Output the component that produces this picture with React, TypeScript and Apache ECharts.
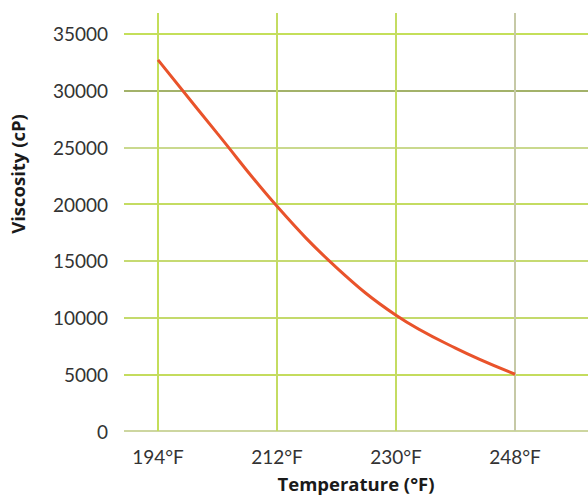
import React, { useEffect, useRef } from "react";
import * as echarts from "echarts";

const temperatures = [194, 203, 212, 221, 230, 239, 248];
const viscosity = [32700, 26200, 19800, 14400, 10200, 7300, 5000];
const xTickValues = [194, 212, 230, 248];
const yGridValues = [0, 5000, 10000, 15000, 20000, 25000, 30000, 35000];
const yGridColors = ["#cdd6a0", "#c4dc5e", "#c4da6c", "#c6da72", "#c4dc62", "#cad98e", "#a3b26a", "#c4df5a"];
const xGridColors = ["#c4de5a", "#c4dc62", "#c4dc62", "#c6c9a6"];

export default function App() {
  const ref = useRef<HTMLDivElement>(null);
  useEffect(() => {
    document.body.style.margin = "0";
    const chart = echarts.init(ref.current!, null, { renderer: "svg" });
    const hLines = yGridValues.map((v, i) => ({
      yAxis: v,
      lineStyle: { color: yGridColors[i], width: 2, type: "solid" },
    }));
    const vLines = xTickValues.map((v, i) => ({
      xAxis: v,
      lineStyle: { color: xGridColors[i], width: 2, type: "solid" },
    }));
    chart.setOption({
      animation: false,
      grid: { left: 124, right: 0, top: 13, bottom: 63 },
      xAxis: {
        type: "value",
        min: 188.86,
        max: 259.04,
        splitLine: { show: false },
        axisLine: { show: false },
        axisTick: { show: false },
        axisLabel: {
          customValues: xTickValues,
          formatter: (v: number) => `${v}°F`,
          color: "#333",
          fontFamily: "Lato",
          fontSize: 19,
          margin: 16,
        },
        name: "Temperature (°F)",
        nameLocation: "middle",
        nameGap: 43,
        nameTextStyle: {
          fontFamily: "Open Sans",
          fontWeight: "bold",
          fontSize: 18.5,
          color: "#1a1a1a",
        },
      },
      yAxis: {
        type: "value",
        min: 0,
        max: 36833,
        interval: 5000,
        splitLine: { show: false },
        axisLine: { show: false },
        axisTick: { show: false },
        axisLabel: {
          formatter: (v: number) => (v % 5000 === 0 ? String(v) : ""),
          color: "#333",
          fontFamily: "Lato",
          fontSize: 19,
          margin: 16,
        },
      },
      graphic: [
        {
          type: "text",
          x: 17,
          y: 174,
          rotation: Math.PI / 2,
          style: {
            text: "Viscosity (cP)",
            fontFamily: "Open Sans",
            fontWeight: "bold",
            fontSize: 18.5,
            fill: "#1a1a1a",
            align: "center",
            verticalAlign: "middle",
          },
        },
      ],
      series: [
        {
          type: "line",
          data: [],
          z: 1,
          silent: true,
          markLine: {
            silent: true,
            symbol: "none",
            label: { show: false },
            animation: false,
            data: [...hLines, ...vLines],
          },
        },
        {
          type: "line",
          z: 5,
          smooth: 0.4,
          showSymbol: false,
          symbol: "none",
          lineStyle: { color: "#e9532b", width: 3 },
          data: temperatures.map((t, i) => [t, viscosity[i]]),
        },
      ],
    });
    return () => chart.dispose();
  }, []);
  return <div ref={ref} style={{ width: 588, height: 498 }} />;
}
